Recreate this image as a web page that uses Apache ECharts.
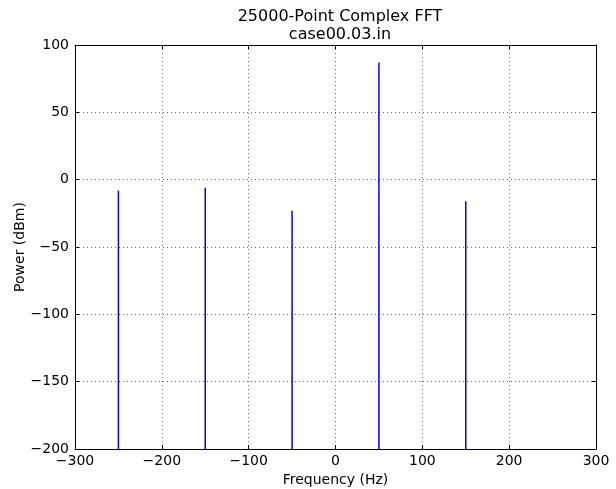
<!DOCTYPE html>
<html><head><meta charset="utf-8">
<script src="https://cdn.jsdelivr.net/npm/echarts@6/dist/echarts.min.js"></script>
<style>html,body{margin:0;padding:0;background:#fff}#c{width:616px;height:489px}</style>
</head><body><div id="c"></div>
<script>
const titleLines = ['25000-Point Complex FFT', 'case00.03.in'];
const peakFreqs = [-250, -150, -50, 50, 150];
const peakPowers = [-8, -6, -23, 87, -16];
const noiseFloor = -320;
const binWidth = 0.024;
const xTicks = [-300, -200, -100, 0, 100, 200, 300];
const yTicks = [-200, -150, -100, -50, 0, 50, 100];

const lineData = [[-300, noiseFloor]];
peakFreqs.forEach((f, i) => {
  lineData.push([f - binWidth, noiseFloor]);
  lineData.push([f, peakPowers[i]]);
  lineData.push([f + binWidth, noiseFloor]);
});
lineData.push([300, noiseFloor]);

const font = 'DejaVu Sans';
const minus = v => String(v).replace('-', '\u2212');
const chart = echarts.init(document.getElementById('c'), null, {renderer: 'canvas'});
const xBase = {type: 'value', min: xTicks[0], max: xTicks[xTicks.length - 1], interval: 100};
const yBase = {type: 'value', min: yTicks[0], max: yTicks[yTicks.length - 1], interval: 50};
const lineCfg = {show: true, onZero: false, lineStyle: {color: '#000', width: 1}};
const tickCfg = {show: true, inside: true, length: 4, lineStyle: {color: '#000'}};
const gridLine = {show: true, lineStyle: {color: '#666', type: [1, 3], width: 1}};
chart.setOption({
  animation: false,
  backgroundColor: '#fff',
  title: {
    text: titleLines.join('\n'), left: 335, top: 3, textAlign: 'center',
    textStyle: {fontFamily: font, fontSize: 16, fontWeight: 'normal', color: '#000', lineHeight: 18}
  },
  grid: {left: 75, right: 20, top: 45, bottom: 40, show: false, containLabel: false, outerBoundsMode: 'none'},
  xAxis: [
    Object.assign({}, xBase, {
      position: 'bottom',
      name: 'Frequency (Hz)', nameLocation: 'middle', nameGap: 24, nameMoveOverlap: false,
      nameTextStyle: {fontFamily: font, fontSize: 14, color: '#000'},
      axisLine: lineCfg, axisTick: tickCfg,
      axisLabel: {fontFamily: font, fontSize: 14, color: '#000', margin: 5, formatter: minus},
      splitLine: gridLine
    }),
    Object.assign({}, xBase, {
      position: 'top', axisLine: lineCfg, axisTick: tickCfg,
      axisLabel: {show: false}, splitLine: {show: false}
    })
  ],
  yAxis: [
    Object.assign({}, yBase, {
      position: 'left',
      name: 'Power (dBm)', nameLocation: 'middle', nameGap: 48, nameRotate: 90, nameMoveOverlap: false,
      nameTextStyle: {fontFamily: font, fontSize: 14, color: '#000'},
      axisLine: lineCfg, axisTick: tickCfg,
      axisLabel: {fontFamily: font, fontSize: 14, color: '#000', margin: 6, formatter: minus},
      splitLine: gridLine
    }),
    Object.assign({}, yBase, {
      position: 'right', axisLine: lineCfg, axisTick: tickCfg,
      axisLabel: {show: false}, splitLine: {show: false}
    })
  ],
  series: [{
    type: 'line', xAxisIndex: 0, yAxisIndex: 0, data: lineData,
    showSymbol: false, symbol: 'none', clip: true,
    lineStyle: {color: '#0000ff', width: 1.5}
  }]
});
</script></body></html>
